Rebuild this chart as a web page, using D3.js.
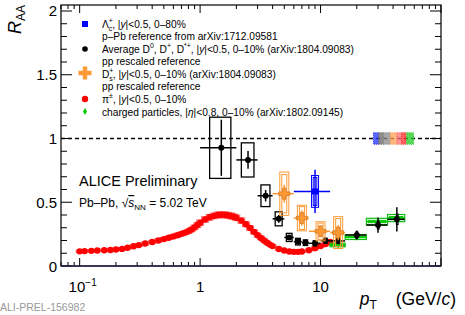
<!DOCTYPE html>
<html><head><meta charset="utf-8">
<script src="https://cdn.jsdelivr.net/npm/d3@7"></script>
<style>body{margin:0;background:#fff}svg{display:block}text{font-family:"Liberation Sans",Arial,sans-serif}</style>
</head><body>
<svg id="c" width="465" height="315"></svg>
<script>
// ---------- data ----------
const xTickVals = [0.1, 1, 10];
const yTickVals = [0, 0.5, 1, 1.5, 2];
const yTickLabels = ["0", "0.5", "1", "1.5", "2"];

// pi+- 0-10%
const piPt  = [0.10,0.11,0.125,0.14,0.16,0.18,0.20,0.225,0.25,0.28,0.31,0.35,0.40,0.45,0.50,0.55,0.60,0.65,0.70,0.75,0.80,0.85,0.90,0.95,1.0,1.1,1.2,1.3,1.4,1.5,1.6,1.7,1.8,1.9,2.0,2.2,2.4,2.6,2.8,3.0,3.2,3.4,3.6,3.8,4.0,4.5,5.0,5.5,6.0,6.5,7.0,8.0,9.0,10.0,11.0,12.0];
const piRaa = [0.115,0.117,0.119,0.121,0.123,0.126,0.129,0.134,0.143,0.155,0.164,0.176,0.188,0.200,0.211,0.222,0.232,0.242,0.252,0.262,0.272,0.286,0.303,0.322,0.340,0.365,0.382,0.393,0.400,0.402,0.401,0.398,0.393,0.386,0.378,0.356,0.328,0.298,0.268,0.242,0.220,0.200,0.183,0.168,0.156,0.133,0.121,0.114,0.111,0.111,0.114,0.124,0.140,0.156,0.172,0.188];
const piSys = [0.010,0.010,0.010,0.010,0.010,0.010,0.010,0.011,0.011,0.012,0.012,0.013,0.013,0.014,0.014,0.015,0.015,0.016,0.016,0.017,0.017,0.018,0.019,0.020,0.021,0.022,0.023,0.023,0.024,0.024,0.024,0.024,0.024,0.023,0.023,0.022,0.020,0.018,0.017,0.015,0.014,0.013,0.012,0.011,0.011,0.010,0.009,0.009,0.009,0.009,0.009,0.010,0.011,0.012,0.013,0.014];

// charged particles 0-10%
const chPt   = [14, 20, 30, 43];
const chLo   = [12, 16, 24, 36];
const chHi   = [16, 24, 36, 50];
const chRaa  = [0.165, 0.226, 0.349, 0.376];
const chStat = [0.004, 0.006, 0.010, 0.018];
const chSys  = [0.014, 0.018, 0.025, 0.028];

// average D0, D+, D*+ 0-10%
const dPt   = [1.5, 2.5, 3.5, 4.5, 5.5, 6.5, 7.5, 9, 11, 14, 20, 30, 43];
const dLo   = [1, 2, 3, 4, 5, 6, 7, 8, 10, 12, 16, 24, 36];
const dHi   = [2, 3, 4, 5, 6, 7, 8, 10, 12, 16, 24, 36, 50];
const dRaa  = [0.927, 0.832, 0.551, 0.370, 0.224, 0.191, 0.183, 0.178, 0.198, 0.197, 0.243, 0.321, 0.366];
const dStat = [0.22, 0.07, 0.045, 0.03, 0.015, 0.012, 0.012, 0.012, 0.015, 0.02, 0.035, 0.06, 0.095];
const dSys  = [0.24, 0.134, 0.085, 0.055, 0.032, 0.026, 0.022, 0.02, 0.02, 0.02, 0.025, 0.03, 0.04];

// Ds+ 0-10%
const dsPt   = [5, 7, 10, 14];
const dsLo   = [4, 6, 8, 12];
const dsHi   = [6, 8, 12, 16];
const dsRaa  = [0.567, 0.376, 0.272, 0.262];
const dsStat = [0.07, 0.06, 0.045, 0.06];
const dsSys  = [0.17, 0.10, 0.075, 0.125];
const dsSys2 = [0.15, 0.09, 0.065, 0.11];

// Lambda_c+ 0-80%
const lcPt   = [9];
const lcLo   = [6];
const lcHi   = [12];
const lcRaa  = [0.585];
const lcStat = [0.17];
const lcSys  = [0.125];
const lcSys2 = [0.11];

// normalisation uncertainties at RAA = 1
const normLo  = [27.5, 30.3, 33.3, 37.9, 43.0, 47.0, 51.9];
const normHi  = [30.3, 33.3, 37.9, 43.0, 47.0, 51.4, 59.2];
const normUnc = [0.045, 0.045, 0.045, 0.045, 0.045, 0.045, 0.045];

// ---------- layout ----------
const L = 61, R = 441, T = 5, B = 266;
const svg = d3.select("#c");
const x = d3.scaleLog().domain([0.07, 100]).range([L, R]);
const y = d3.scaleLinear().domain([0, 2.047]).range([B, T]);

const C = {
  blue: "#0000ff", black: "#000000", orange: "#ff9933", orangeBox: "#ff9933",
  red: "#ff0000", redBox: "#ff5555", green: "#00cc00", greenBox: "#11bb11"
};
const normColors = ["#2233ff", "#666666", "#8a8a8a", "#ff9f55", "#ff6f6f", "#ff2a2a", "#22cc22"];

const plot = svg.append("g");

// dashed line at 1
plot.append("line").attr("x1", L).attr("x2", R).attr("y1", y(1)).attr("y2", y(1))
  .attr("stroke", "#000").attr("stroke-width", 1.3).attr("stroke-dasharray", "4,3");

// normalisation boxes
const nb = plot.append("g");
normLo.forEach((lo, i) => {
  nb.append("rect").attr("x", x(lo)).attr("width", x(normHi[i]) - x(lo))
    .attr("y", y(1 + normUnc[i])).attr("height", y(1 - normUnc[i]) - y(1 + normUnc[i]))
    .attr("fill", normColors[i]).attr("fill-opacity", 0.75)
    .attr("stroke", normColors[i]).attr("stroke-width", 1).attr("stroke-dasharray", "1,1");
});

// ---- pions ----
const gp = plot.append("g");
piPt.forEach((p, i) => {
  gp.append("rect").attr("x", x(p) - 3.5).attr("width", 7)
    .attr("y", y(piRaa[i] + piSys[i])).attr("height", y(piRaa[i] - piSys[i]) - y(piRaa[i] + piSys[i]))
    .attr("fill", "none").attr("stroke", C.redBox).attr("stroke-width", 0.8);
});
piPt.forEach((p, i) => {
  gp.append("circle").attr("cx", x(p)).attr("cy", y(piRaa[i])).attr("r", 3.2).attr("fill", C.red);
});

// ---- charged particles ----
const gc = plot.append("g");
chPt.forEach((p, i) => {
  const x0 = x(chLo[i]), x1 = x(chHi[i]);
  gc.append("rect").attr("x", x0).attr("width", x1 - x0)
    .attr("y", y(chRaa[i] + chSys[i])).attr("height", y(chRaa[i] - chSys[i]) - y(chRaa[i] + chSys[i]))
    .attr("fill", "none").attr("stroke", C.greenBox).attr("stroke-width", 1.2);
  gc.append("rect").attr("x", x0 + 2).attr("width", x1 - x0 - 4)
    .attr("y", y(chRaa[i] + chSys[i]) + 2).attr("height", y(chRaa[i] - chSys[i]) - y(chRaa[i] + chSys[i]) - 4)
    .attr("fill", "none").attr("stroke", C.greenBox).attr("stroke-width", 1);
  gc.append("line").attr("x1", x0).attr("x2", x1).attr("y1", y(chRaa[i])).attr("y2", y(chRaa[i]))
    .attr("stroke", C.green).attr("stroke-width", 2);
  gc.append("line").attr("x1", x(p)).attr("x2", x(p)).attr("y1", y(chRaa[i] + chStat[i])).attr("y2", y(chRaa[i] - chStat[i]))
    .attr("stroke", C.green).attr("stroke-width", 2);
  gc.append("path").attr("d", d3.symbol(d3.symbolDiamond, 14)()).attr("transform", `translate(${x(p)},${y(chRaa[i])})`).attr("fill", C.green);
});

// ---- average D ----
const gd = plot.append("g");
dPt.forEach((p, i) => {
  const bx0 = x(p - 0.3), bx1 = x(p + 0.3);
  gd.append("rect").attr("x", bx0).attr("width", Math.max(bx1 - bx0, 1.5))
    .attr("y", y(dRaa[i] + dSys[i])).attr("height", y(dRaa[i] - dSys[i]) - y(dRaa[i] + dSys[i]))
    .attr("fill", "none").attr("stroke", C.black).attr("stroke-width", 1.3);
  gd.append("line").attr("x1", x(dLo[i])).attr("x2", x(dHi[i])).attr("y1", y(dRaa[i])).attr("y2", y(dRaa[i]))
    .attr("stroke", C.black).attr("stroke-width", 1.5);
  gd.append("line").attr("x1", x(p)).attr("x2", x(p)).attr("y1", y(dRaa[i] + dStat[i])).attr("y2", y(dRaa[i] - dStat[i]))
    .attr("stroke", C.black).attr("stroke-width", 1.5);
  gd.append("circle").attr("cx", x(p)).attr("cy", y(dRaa[i])).attr("r", 3).attr("fill", C.black);
});

// ---- Ds ----
function crossPath(s, t) {
  return `M${-t},${-s}H${t}V${-t}H${s}V${t}H${t}V${s}H${-t}V${t}H${-s}V${-t}H${-t}Z`;
}
const gs = plot.append("g");
dsPt.forEach((p, i) => {
  const cx = x(p);
  gs.append("rect").attr("x", cx - 4.5).attr("width", 9)
    .attr("y", y(dsRaa[i] + dsSys[i])).attr("height", y(dsRaa[i] - dsSys[i]) - y(dsRaa[i] + dsSys[i]))
    .attr("fill", "none").attr("stroke", C.orangeBox).attr("stroke-width", 1);
  gs.append("rect").attr("x", cx - 2.5).attr("width", 5)
    .attr("y", y(dsRaa[i] + dsSys2[i])).attr("height", y(dsRaa[i] - dsSys2[i]) - y(dsRaa[i] + dsSys2[i]))
    .attr("fill", "none").attr("stroke", C.orangeBox).attr("stroke-width", 1);
  gs.append("line").attr("x1", x(dsLo[i])).attr("x2", x(dsHi[i])).attr("y1", y(dsRaa[i])).attr("y2", y(dsRaa[i]))
    .attr("stroke", C.orange).attr("stroke-width", 1.5);
  gs.append("line").attr("x1", cx).attr("x2", cx).attr("y1", y(dsRaa[i] + dsStat[i])).attr("y2", y(dsRaa[i] - dsStat[i]))
    .attr("stroke", C.orange).attr("stroke-width", 1.5);
  gs.append("path").attr("d", crossPath(5.5, 1.8)).attr("transform", `translate(${cx},${y(dsRaa[i])})`)
    .attr("fill", C.orange).attr("stroke", "#c96a10").attr("stroke-width", 0.6);
});

// ---- Lambda_c ----
const gl = plot.append("g");
lcPt.forEach((p, i) => {
  const cx = x(p);
  gl.append("rect").attr("x", cx - 3.5).attr("width", 7)
    .attr("y", y(lcRaa[i] + lcSys[i])).attr("height", y(lcRaa[i] - lcSys[i]) - y(lcRaa[i] + lcSys[i]))
    .attr("fill", "none").attr("stroke", C.blue).attr("stroke-width", 1);
  gl.append("rect").attr("x", cx - 1.8).attr("width", 3.6)
    .attr("y", y(lcRaa[i] + lcSys2[i])).attr("height", y(lcRaa[i] - lcSys2[i]) - y(lcRaa[i] + lcSys2[i]))
    .attr("fill", "none").attr("stroke", C.blue).attr("stroke-width", 1);
  gl.append("line").attr("x1", x(lcLo[i])).attr("x2", x(lcHi[i])).attr("y1", y(lcRaa[i])).attr("y2", y(lcRaa[i]))
    .attr("stroke", C.blue).attr("stroke-width", 1.5);
  gl.append("line").attr("x1", cx).attr("x2", cx).attr("y1", y(lcRaa[i] + lcStat[i])).attr("y2", y(lcRaa[i] - lcStat[i]))
    .attr("stroke", C.blue).attr("stroke-width", 1.5);
  gl.append("rect").attr("x", cx - 3).attr("y", y(lcRaa[i]) - 3).attr("width", 6).attr("height", 6).attr("fill", C.blue);
});

// ---------- axes / frame ----------
const ax = svg.append("g").attr("stroke", "#000").attr("stroke-width", 1);
const yMinor = d3.range(0, 2.0001, 0.1).map(v => +v.toFixed(2));
yMinor.forEach(v => {
  const major = Math.abs(v * 2 - Math.round(v * 2)) < 1e-6;
  const len = major ? 11 : 6;
  ax.append("line").attr("x1", L).attr("x2", L + len).attr("y1", y(v)).attr("y2", y(v));
  ax.append("line").attr("x1", R).attr("x2", R - len).attr("y1", y(v)).attr("y2", y(v));
});
const xMinor = [];
[0.01, 0.1, 1, 10].forEach(dec => { for (let k = 1; k <= 9; k++) { const v = dec * k; if (v >= 0.07 && v <= 100) xMinor.push(v); } });
xMinor.push(100);
xMinor.forEach(v => {
  const major = xTickVals.includes(+v.toPrecision(3)) || Math.abs(v - 100) < 1e-6;
  const len = major ? 8 : 4;
  ax.append("line").attr("x1", x(v)).attr("x2", x(v)).attr("y1", B).attr("y2", B - len);
  ax.append("line").attr("x1", x(v)).attr("x2", x(v)).attr("y1", T).attr("y2", T + len);
});
svg.append("rect").attr("x", L).attr("y", T).attr("width", R - L).attr("height", B - T)
  .attr("fill", "none").attr("stroke", "#000").attr("stroke-width", 1.2);
svg.append("line").attr("x1", L).attr("x2", R).attr("y1", B).attr("y2", B).attr("stroke", "#2a2a55").attr("stroke-width", 1.6);

// tick labels
const yl = svg.append("g").attr("font-size", 15).attr("text-anchor", "end").attr("fill", "#000");
yTickVals.forEach((v, i) => {
  yl.append("text").attr("x", L - 4).attr("y", y(v) + 5.5).text(yTickLabels[i]);
});
const xl = svg.append("g").attr("font-size", 15).attr("text-anchor", "middle");
xTickVals.forEach(v => {
  const t = xl.append("text").attr("x", x(v)).attr("y", 292);
  if (v < 1) { t.append("tspan").text("10"); t.append("tspan").attr("font-size", 10).attr("dy", -6).text("\u22121"); t.attr("x", x(v) + 3); }
  else t.text(String(v));
});

// axis titles
const yt = svg.append("text").attr("transform", `translate(${21},${34}) rotate(-90)`).attr("font-size", 18);
yt.append("tspan").attr("font-style", "italic").text("R");
yt.append("tspan").attr("font-size", 12).attr("dy", 4).text("AA");
const xt = svg.append("text").attr("x", 456).attr("y", 305).attr("text-anchor", "end").attr("font-size", 17.5);
xt.append("tspan").attr("font-style", "italic").text("p");
xt.append("tspan").attr("font-size", 12).attr("dy", 4).text("T");
xt.append("tspan").attr("dy", -4).attr("dx", 14).text(" (GeV/");
xt.append("tspan").attr("font-style", "italic").text("c");
xt.append("tspan").text(")");

// ---------- legend ----------
const lg = svg.append("g").attr("font-size", 10.2);
const LX = 85, TX = 102;
function line(yb) { return lg.append("text").attr("x", TX).attr("y", yb); }
// Lambda_c
lg.append("rect").attr("x", LX - 3).attr("y", 24 - 3).attr("width", 6).attr("height", 6).attr("fill", C.blue);
let t = line(28);
t.append("tspan").text("\u039B");
t.append("tspan").attr("font-size", 7).attr("dy", -5.5).text("+");
t.append("tspan").attr("font-size", 7).attr("dx", -4.2).attr("dy", 8.5).text("c");
t.append("tspan").attr("dy", -3).text(", |");
t.append("tspan").attr("font-style", "italic").text("y");
t.append("tspan").text("|<0.5, 0\u201380%");
line(40).text("p\u2013Pb reference from arXiv:1712.09581");
// average D
lg.append("circle").attr("cx", LX).attr("cy", 49).attr("r", 2.8).attr("fill", "#000");
t = line(53);
t.append("tspan").text("Average D");
t.append("tspan").attr("font-size", 7).attr("dy", -5).text("0");
t.append("tspan").attr("dy", 5).text(", D");
t.append("tspan").attr("font-size", 7).attr("dy", -5).text("+");
t.append("tspan").attr("dy", 5).text(", D");
t.append("tspan").attr("font-size", 7).attr("dy", -5).text("*+");
t.append("tspan").attr("dy", 5).text(", |");
t.append("tspan").attr("font-style", "italic").text("y");
t.append("tspan").text("|<0.5, 0\u201310% (arXiv:1804.09083)");
line(65).text("pp rescaled reference");
// Ds
lg.append("path").attr("d", crossPath(6.5, 2.2)).attr("transform", `translate(${LX},${73})`).attr("fill", C.orange);
t = line(77.5);
t.append("tspan").text("D");
t.append("tspan").attr("font-size", 7).attr("dy", -5).text("+");
t.append("tspan").attr("font-size", 7).attr("dx", -4.2).attr("dy", 8).text("s");
t.append("tspan").attr("dy", -3).text(", |");
t.append("tspan").attr("font-style", "italic").text("y");
t.append("tspan").text("|<0.5, 0\u201310% (arXiv:1804.09083)");
line(89.5).text("pp rescaled reference");
// pion
lg.append("circle").attr("cx", LX).attr("cy", 99).attr("r", 3.2).attr("fill", C.red);
t = line(103);
t.append("tspan").text("\u03C0");
t.append("tspan").attr("font-size", 7).attr("dy", -5).text("\u00B1");
t.append("tspan").attr("dy", 5).text(", |");
t.append("tspan").attr("font-style", "italic").text("y");
t.append("tspan").text("|<0.5, 0\u201310%");
// charged
lg.append("path").attr("d", d3.symbol(d3.symbolDiamond, 14)()).attr("transform", `translate(${LX},${111.5})`).attr("fill", C.green);
t = line(115.5);
t.append("tspan").text("charged particles, |");
t.append("tspan").attr("font-style", "italic").text("\u03B7");
t.append("tspan").text("|<0.8, 0\u201310% (arXiv:1802.09145)");

// ---------- annotations ----------
svg.append("text").attr("x", 79).attr("y", 185.5).attr("font-size", 14.5).text("ALICE Preliminary");
const en = svg.append("text").attr("x", 79).attr("y", 207).attr("font-size", 12);
en.append("tspan").text("Pb\u2013Pb, ");
en.append("tspan").text("\u221A");
en.append("tspan").attr("font-style", "italic").attr("text-decoration", "overline").text("s");
en.append("tspan").attr("font-size", 8).attr("dy", 3).text("NN");
en.append("tspan").attr("dy", -3).text(" = 5.02 TeV");

svg.append("text").attr("x", 0).attr("y", 311).attr("font-family", "'Liberation Mono', 'DejaVu Sans Mono', monospace")
  .attr("font-size", 10.5).attr("fill", "#999").text("ALI-PREL-156982");
</script>
</body></html>
